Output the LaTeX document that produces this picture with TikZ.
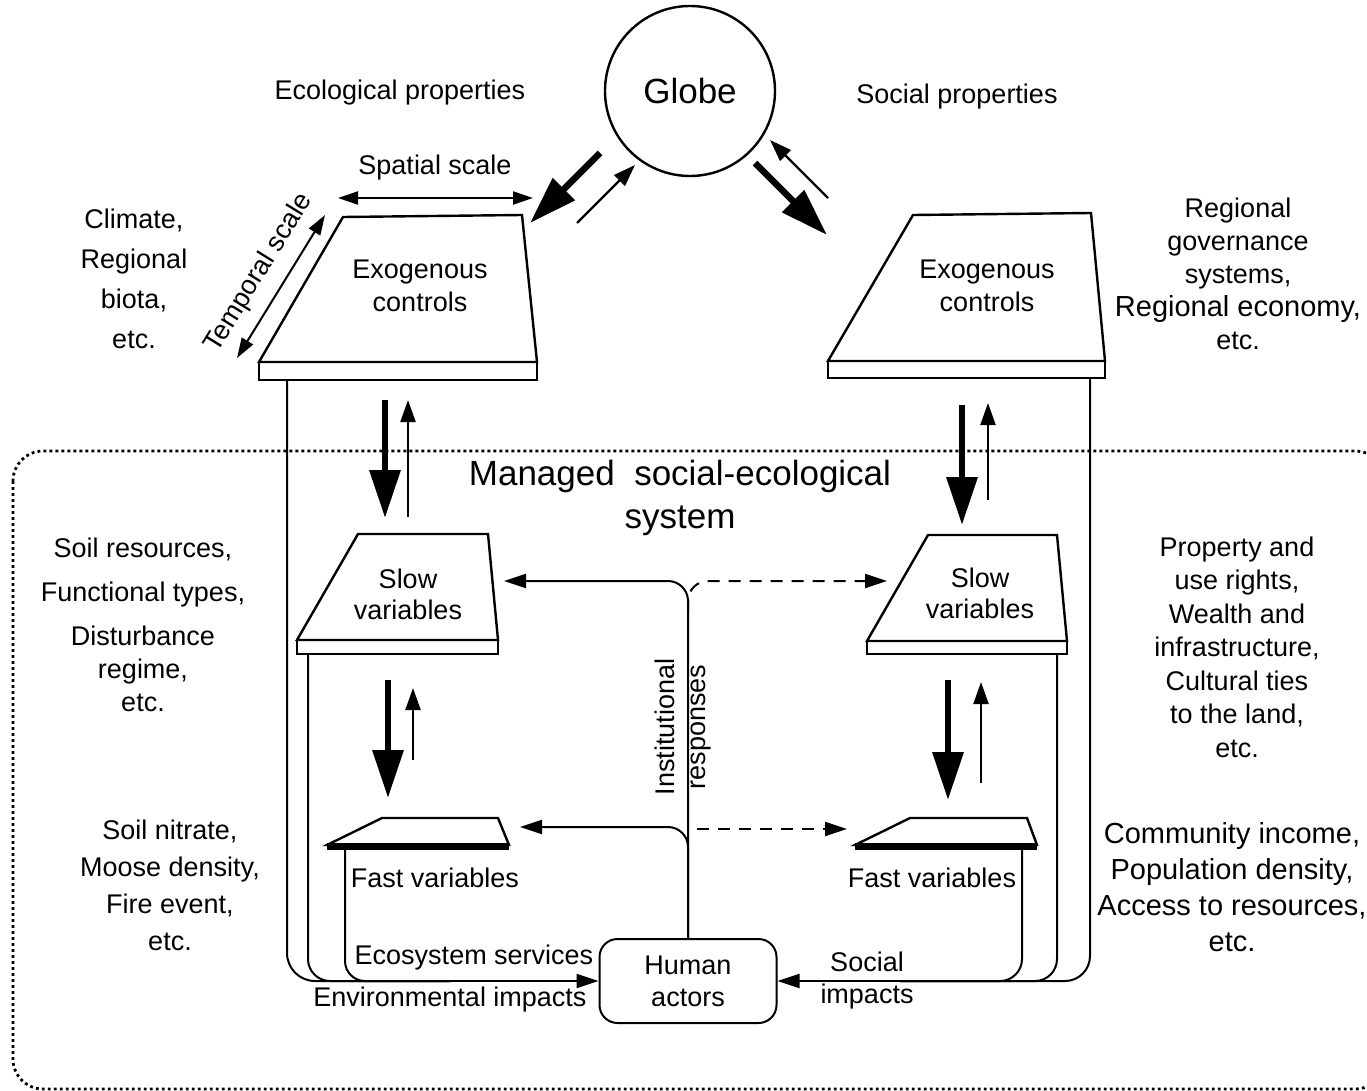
\documentclass[tikz,border=0pt]{standalone}
\usepackage{fontspec}
\setmainfont{Liberation Sans}
\usetikzlibrary{arrows.meta}
\begin{document}
\begin{tikzpicture}[x=1pt,y=-1pt,
  txt/.style={font=\fontsize{27}{33}\selectfont,align=center,inner sep=0pt},
  shp/.style={draw,line width=2.4pt,line join=miter},
  conn/.style={line width=2pt,-{Triangle[length=22pt,width=14pt]}},
  dconn/.style={line width=2pt,dash pattern=on 12pt off 9pt,-{Triangle[length=22pt,width=14pt]}},
  thickarr/.style={line width=6.5pt,-{Triangle[length=48pt,width=30pt]}},
  thinarr/.style={line width=2.2pt,-{Triangle[length=22pt,width=15pt]}},
  scalearr/.style={line width=2pt,{Triangle[length=20pt,width=13pt]}-{Triangle[length=20pt,width=13pt]}},
  feed/.style={line width=2pt}]
\useasboundingbox (0,0) rectangle (1367,1091);

% dotted system boundary
\draw[line width=2.8pt,dash pattern=on 2.8pt off 3.2pt,rounded corners=30pt] (13,451) rectangle (1385,1089);

% globe
\node[circle,draw,line width=2.4pt,minimum size=170pt,inner sep=0pt,font=\fontsize{35}{40}\selectfont] (globe) at (690,91) {Globe};

% exogenous controls (left)
\draw[shp] (343,217) -- (522,215) -- (537,362) -- (259,362) -- cycle;
\draw[shp] (259,362) rectangle (537,380);
\node[txt] (exoLt) at (420,286) {Exogenous\\controls};
% exogenous controls (right)
\draw[shp] (913,215) -- (1091,213) -- (1105,361) -- (828,361) -- cycle;
\draw[shp] (828,361) rectangle (1105,378);
\node[txt] (exoRt) at (987,286) {Exogenous\\controls};

% slow variables
\draw[shp] (358,534) -- (488,534) -- (498,640) -- (297,640) -- cycle;
\draw[shp] (297,640) rectangle (498,654);
\node[txt,font=\fontsize{27}{31}\selectfont] (slowLt) at (408,594) {Slow\\variables};
\draw[shp] (928,535) -- (1057,535) -- (1067,641) -- (867,641) -- cycle;
\draw[shp] (867,641) rectangle (1067,654);
\node[txt,font=\fontsize{27}{31}\selectfont] (slowRt) at (980,593) {Slow\\variables};

% fast variables
\draw[shp] (382,818) -- (498,818) -- (509,845) -- (327,845) -- cycle;
\fill (327,843) rectangle (509,850);
\node[txt] (fastLt) at (435,878) {Fast variables};
\draw[shp] (910,818) -- (1027,818) -- (1037,845) -- (855,845) -- cycle;
\fill (855,843) rectangle (1037,850);
\node[txt] (fastRt) at (932,878) {Fast variables};

% human actors
\node[draw,line width=2pt,rounded corners=18pt,minimum width=177pt,minimum height=84pt,txt,font=\fontsize{27}{32}\selectfont] (human) at (688,981) {Human\\actors};

% scale arrows
\draw[scalearr] (338,198) -- (533,198);
\node[txt] (spatial) at (435,168) {Spatial scale};
\draw[scalearr] (325,215) -- (237,358);
\node[txt,rotate=58.4] (temporal) at (259,273) {Temporal scale};

% globe arrows
\draw[thickarr] (600,153) -- (530,223);
\draw[thinarr] (577,223) -- (635,165);
\draw[thickarr] (755,163) -- (827,235);
\draw[thinarr] (828,198) -- (770,140);

% exogenous <-> slow
\draw[thickarr] (385,400) -- (385,518);
\draw[thinarr] (408,517) -- (408,400);
\draw[thickarr] (962,405) -- (962,525);
\draw[thinarr] (988,500) -- (988,403);

% slow <-> fast
\draw[thickarr] (388,680) -- (388,798);
\draw[thinarr] (413,760) -- (413,688);
\draw[thickarr] (948,680) -- (948,800);
\draw[thinarr] (981,783) -- (981,682);

% institutional responses
\draw[conn,rounded corners=20pt] (human.north) |- (504,581);
\draw[conn,rounded corners=20pt] (human.north) |- (520,827);
\draw[dconn,rounded corners=20pt] (688,612) |- (887,581);
\draw[dconn] (697,829) -- (847,829);
\node[txt,rotate=90] (inst) at (665,727) {Institutional};
\node[txt,rotate=90] (resp) at (701,727) {responses};

% feedback lines left
\draw[feed,rounded corners=28pt] (287,380) |- (450,981);
\draw[feed,rounded corners=22pt] (308,654) |- (450,981);
\draw[feed,rounded corners=20pt] (345,850) |- (450,981);
\draw[conn] (420,981) -- (human.west);
% feedback lines right
\draw[feed,rounded corners=22pt] (1022,850) |- (900,981);
\draw[feed,rounded corners=22pt] (1057,654) |- (900,981);
\draw[feed,rounded corners=25pt] (1090,378) |- (900,981);
\draw[conn] (950,981) -- (human.east);

% labels
\node[txt] (ecoprop) at (400,93) {Ecological properties};
\node[txt] (socprop) at (957,97) {Social properties};
\node[txt,font=\fontsize{35}{43}\selectfont] (managed) at (680,498) {Managed\ \ social-ecological\\system};
\node[txt,font=\fontsize{27}{40}\selectfont] (climate) at (134,279) {Climate,\\Regional\\biota,\\etc.};
\node[txt] (regional) at (1238,274) {Regional\\governance\\systems,\\\fontsize{29}{33}\selectfont Regional economy,\\etc.};
\node[txt] (soilres) at (143,625) {Soil resources,\\[11pt]Functional types,\\[11pt]Disturbance\\regime,\\etc.};
\node[txt,font=\fontsize{27}{33.5}\selectfont] (property) at (1237,647) {Property and\\use rights,\\Wealth and\\infrastructure,\\Cultural ties\\to the land,\\etc.};
\node[txt,font=\fontsize{27}{37}\selectfont] (soilnit) at (170,885) {Soil nitrate,\\Moose density,\\Fire event,\\etc.};
\node[txt,font=\fontsize{29}{36}\selectfont] (community) at (1232,887) {Community income,\\Population density,\\Access to resources,\\etc.};
\node[txt] (ecoserv) at (474,958) {Ecosystem services};
\node[txt] (envimp) at (450,1000) {Environmental impacts};
\node[txt,font=\fontsize{27}{32}\selectfont] (socimp) at (867,981) {Social\\impacts};
\end{tikzpicture}
\end{document}
